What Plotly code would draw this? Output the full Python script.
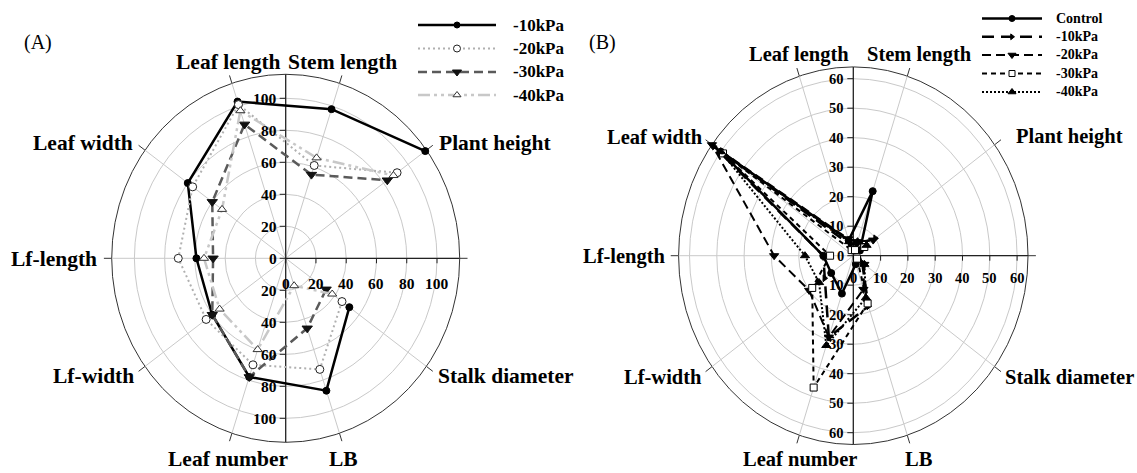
import numpy as np
import plotly.graph_objects as go

W, H = 1137, 473

# ---------------- data ----------------
categories = ["Stalk diameter", "LB", "Leaf number", "Lf-width", "Lf-length",
              "Leaf width", "Leaf length", "Stem length", "Plant height"]
angles_deg = [324, 288, 252, 216, 180, 144, 108, 72, 36]

a_names = ["-10kPa", "-20kPa", "-30kPa", "-40kPa"]
a_m10 = [52, 87, 78, 60, 59, 80, 103, 98, 114]
a_m20 = [46, 73, 70, 65, 71, 76, 101, 61, 91]
a_m30 = [33, 46, 78, 60, 48, 60, 88, 55, 83]
a_m40 = [38, 18, 60, 54, 54, 52, 97, 66, 88]

b_names = ["Control", "-10kPa", "-20kPa", "-30kPa", "-40kPa"]
b_ctrl = [2, 3, 13.5, 10, 11, 60, 5.5, 23, 3]
b_m10 = [4, 18, 29, 13, 11, 63, 4, 4, 10]
b_m20 = [5, 12, 29, 20, 29, 64, 6, 5, 9]
b_m30 = [1.7, 17, 47, 18.6, 8.5, 59, 2, 2, 5]
b_m40 = [5, 15, 32, 15.5, 17.7, 60, 5, 5, 6]

a_grid = [20, 40, 60, 80, 100]
a_outer = 115
a_yticks = [0, 20, 40, 60, 80, 100]
a_xticks = [0, 20, 40, 60, 80, 100]

b_grid = [10, 20, 30, 40, 50, 60]
b_outer = 64
b_yticks = [0, 10, 20, 30, 40, 50, 60]
b_xticks = [0, 10, 20, 30, 40, 50, 60]

spoke_deg = [0, 36, 72, 108, 144, 180, 216, 252, 288, 324]

# ---------------- styles ----------------
FONT = "Liberation Serif"
a_styles = [
    dict(color="black", width=2.5, dash="solid", sym="circle", mcol="black", mline="black", size=7),
    dict(color="#b0b0b0", width=2, dash="2px,3px", sym="circle", mcol="white", mline="#222", size=8),
    dict(color="#5a5a5a", width=2.5, dash="9px,5px", sym="triangle-down", mcol="#111", mline="#111", size=9),
    dict(color="#c8c8c8", width=2.5, dash="12px,4px,3px,4px,3px,4px", sym="triangle-up", mcol="white", mline="#333", size=8),
]
b_styles = [
    dict(color="black", width=2.5, dash="solid", sym="circle", mcol="black", mline="black", size=7),
    dict(color="black", width=2.5, dash="12px,7px", sym="triangle-right", mcol="black", mline="black", size=6),
    dict(color="black", width=2, dash="9px,5px", sym="triangle-down", mcol="black", mline="black", size=8),
    dict(color="black", width=2, dash="5px,4px", sym="square", mcol="white", mline="black", size=7),
    dict(color="black", width=2, dash="2px,2px", sym="triangle-up", mcol="black", mline="black", size=8),
]

# panel geometry (pixels)
PA = dict(cx=285.7, cy=258.3, sx=1.513, sy=1.60, d0=0.0, d1=0.5, xa="x", ya="y", lab_off=25)
PB = dict(cx=853.3, cy=255.7, sx=2.73, sy=2.95, d0=0.5, d1=1.0, xa="x2", ya="y2", lab_off=22)

fig = go.Figure()
shapes = []
annotations = []


def to_xy(r, deg):
    t = np.deg2rad(np.asarray(deg, dtype=float))
    r = np.asarray(r, dtype=float)
    return r * np.cos(t), r * np.sin(t)


def px2data(P, px, py):
    return (px - P["cx"]) / P["sx"], (P["cy"] - py) / P["sy"]


def build_panel(P, grid, outer, yticks, xticks, series, names, styles,
                tickfont, legend_rows, leg_x0, leg_x1, leg_tx, legfont):
    xa, ya = P["xa"], P["ya"]
    # grid circles
    for r in grid:
        shapes.append(dict(type="circle", xref=xa, yref=ya, x0=-r, x1=r, y0=-r, y1=r,
                           line=dict(color="#c9c9c9", width=1), layer="below"))
    shapes.append(dict(type="circle", xref=xa, yref=ya, x0=-outer, x1=outer, y0=-outer, y1=outer,
                       line=dict(color="#333333", width=1), layer="below"))
    # spokes + outer ticks
    for d in spoke_deg:
        ex, ey = to_xy(outer, d)
        shapes.append(dict(type="line", xref=xa, yref=ya, x0=0, y0=0, x1=float(ex), y1=float(ey),
                           line=dict(color="#c9c9c9", width=1), layer="below"))
        tx, ty = to_xy(outer * 1.045, d)
        shapes.append(dict(type="line", xref=xa, yref=ya, x0=float(ex), y0=float(ey),
                           x1=float(tx), y1=float(ty),
                           line=dict(color="#333333", width=1), layer="below"))
    # black axes: full vertical, right half horizontal
    shapes.append(dict(type="line", xref=xa, yref=ya, x0=0, y0=-outer, x1=0, y1=outer,
                       line=dict(color="#222", width=1.3), layer="below"))
    shapes.append(dict(type="line", xref=xa, yref=ya, x0=0, y0=0, x1=outer, y1=0,
                       line=dict(color="#222", width=1.3), layer="below"))
    # vertical axis ticks and labels (both halves)
    tl = 6.0 / P["sx"]
    for t in yticks:
        for s in ([1, -1] if t != 0 else [1]):
            shapes.append(dict(type="line", xref=xa, yref=ya, x0=-tl, x1=0, y0=s * t, y1=s * t,
                               line=dict(color="#222", width=1), layer="below"))
            annotations.append(dict(xref=xa, yref=ya, x=0, y=s * t, text=f"<b>{t}</b>",
                                    showarrow=False, xanchor="right", yanchor="middle",
                                    xshift=-8, borderpad=0,
                                    font=dict(family=FONT, size=tickfont, color="black")))
    # horizontal axis ticks and labels
    tv = 5.0 / P["sy"]
    for t in xticks:
        shapes.append(dict(type="line", xref=xa, yref=ya, x0=t, x1=t, y0=-tv, y1=0,
                           line=dict(color="#222", width=1), layer="below"))
        annotations.append(dict(xref=xa, yref=ya, x=t, y=0, text=f"<b>{t}</b>",
                                showarrow=False, xanchor="center", yanchor="middle",
                                yshift=-P["lab_off"], borderpad=0,
                                font=dict(family=FONT, size=tickfont, color="black")))
    # series
    for vals, name, st in zip(series, names, styles):
        x, y = to_xy(vals, angles_deg)
        fig.add_trace(go.Scatter(
            x=x, y=y, mode="lines+markers", name=name, showlegend=False,
            xaxis=xa, yaxis=ya, cliponaxis=False,
            line=dict(color=st["color"], width=st["width"], dash=st["dash"]),
            marker=dict(symbol=st["sym"], size=st["size"], color=st["mcol"],
                        line=dict(color=st["mline"], width=1))))
    # custom legend
    for row_y, name, st in zip(legend_rows, names, styles):
        lx0, ly = px2data(P, leg_x0, row_y)
        lx1, _ = px2data(P, leg_x1, row_y)
        fig.add_trace(go.Scatter(
            x=[lx0, lx1], y=[ly, ly], mode="lines", showlegend=False, hoverinfo="skip",
            xaxis=xa, yaxis=ya, cliponaxis=False,
            line=dict(color=st["color"], width=st["width"], dash=st["dash"])))
        fig.add_trace(go.Scatter(
            x=[(lx0 + lx1) / 2], y=[ly], mode="markers", showlegend=False, hoverinfo="skip",
            xaxis=xa, yaxis=ya, cliponaxis=False,
            marker=dict(symbol=st["sym"], size=st["size"] - 1, color=st["mcol"],
                        line=dict(color=st["mline"], width=1))))
        annotations.append(dict(xref="paper", yref="paper", x=leg_tx / W, y=1 - row_y / H,
                                text=f"<b>{name}</b>", showarrow=False, xanchor="left",
                                yanchor="middle", borderpad=0,
                                font=dict(family=FONT, size=legfont, color="black")))


build_panel(PA, a_grid, a_outer, a_yticks, a_xticks, [a_m10, a_m20, a_m30, a_m40],
            a_names, a_styles, 15.5, [25, 48.5, 72, 95], 418, 496, 512, 17)
build_panel(PB, b_grid, b_outer, b_yticks, b_xticks, [b_ctrl, b_m10, b_m20, b_m30, b_m40],
            b_names, b_styles, 14.5, [18.5, 36.8, 55, 73.5, 92], 982, 1042, 1055, 14)

# category labels (pixel centres)
a_label_pos = [(506, 376), (343, 459), (228, 459), (93, 376), (54, 259),
               (83, 143), (228, 62), (342, 62), (495, 143)]
b_label_pos = [(1069, 377), (919, 459), (800, 459), (663, 377), (624, 256),
               (655, 137), (799, 55), (919, 55), (1069, 137)]
for cat, (px, py) in zip(categories, a_label_pos):
    annotations.append(dict(xref="paper", yref="paper", x=px / W, y=1 - py / H,
                            text=f"<b>{cat}</b>", showarrow=False, xanchor="center",
                            yanchor="middle", borderpad=0,
                            font=dict(family=FONT, size=21.5, color="black")))
for cat, (px, py) in zip(categories, b_label_pos):
    annotations.append(dict(xref="paper", yref="paper", x=px / W, y=1 - py / H,
                            text=f"<b>{cat}</b>", showarrow=False, xanchor="center",
                            yanchor="middle", borderpad=0,
                            font=dict(family=FONT, size=20.5, color="black")))

for txt, px, py in [("(A)", 38, 42), ("(B)", 602, 42)]:
    annotations.append(dict(xref="paper", yref="paper", x=px / W, y=1 - py / H, text=txt,
                            showarrow=False, xanchor="center", yanchor="middle", borderpad=0,
                            font=dict(family=FONT, size=20, color="black")))


def axis_ranges(P):
    left = P["d0"] * W
    right = P["d1"] * W
    xr = [(left - P["cx"]) / P["sx"], (right - P["cx"]) / P["sx"]]
    yr = [(P["cy"] - H) / P["sy"], P["cy"] / P["sy"]]
    return xr, yr


axr, ayr = axis_ranges(PA)
bxr, byr = axis_ranges(PB)
hidden = dict(visible=False, showgrid=False, zeroline=False, fixedrange=True)

fig.update_layout(
    width=W, height=H, margin=dict(l=0, r=0, t=0, b=0),
    paper_bgcolor="white", plot_bgcolor="white",
    xaxis=dict(domain=[PA["d0"], PA["d1"]], range=axr, anchor="y", **hidden),
    yaxis=dict(domain=[0, 1], range=ayr, anchor="x", **hidden),
    xaxis2=dict(domain=[PB["d0"], PB["d1"]], range=bxr, anchor="y2", **hidden),
    yaxis2=dict(domain=[0, 1], range=byr, anchor="x2", **hidden),
    shapes=shapes, annotations=annotations, showlegend=False,
)

fig.write_html("out.html")
